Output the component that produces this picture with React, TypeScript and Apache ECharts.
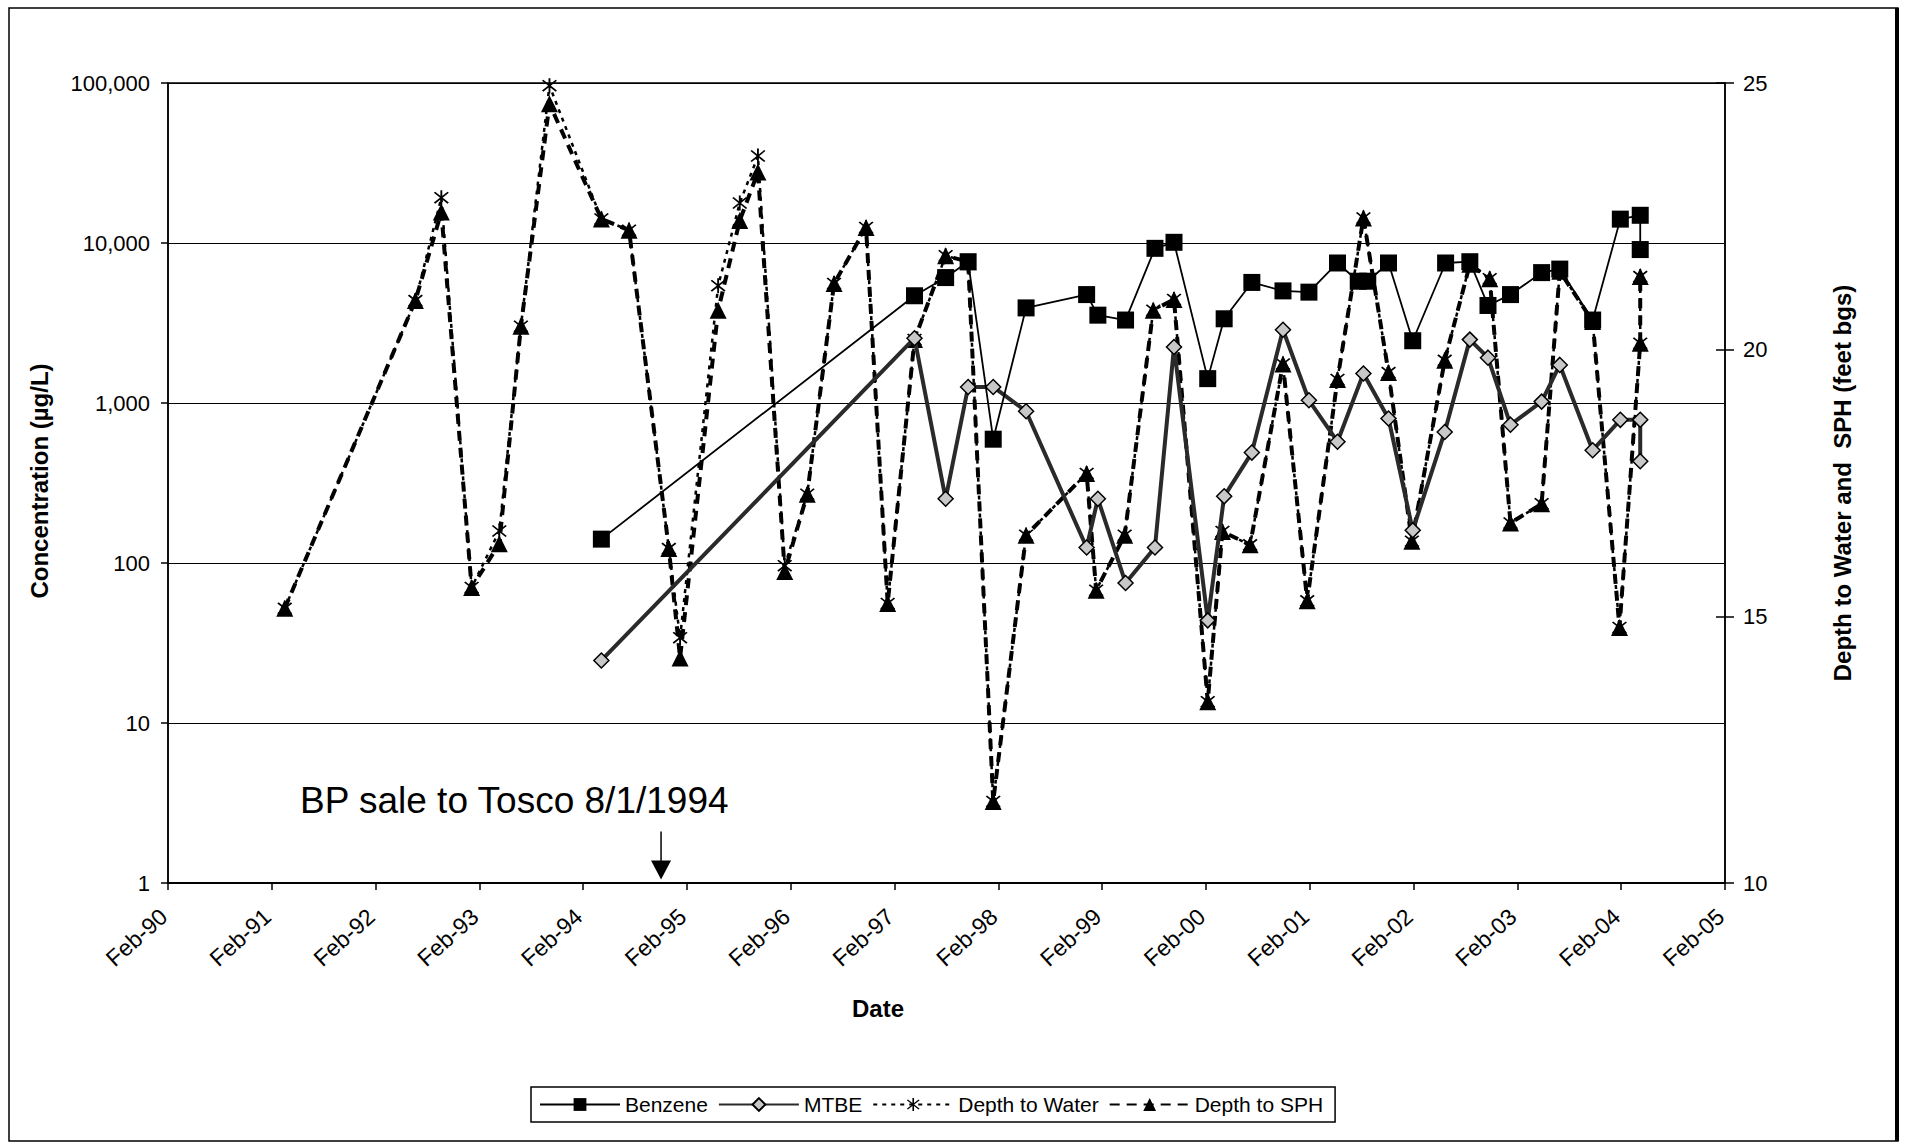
import React, { useEffect, useRef } from 'react';
import * as echarts from 'echarts';

// Months since Feb-1990 (x axis) ---------------------------------------
const xTickYears = [90, 91, 92, 93, 94, 95, 96, 97, 98, 99, 0, 1, 2, 3, 4, 5];

const benzeneMonths = [50.1, 86.3, 89.9, 92.5, 95.4, 99.2, 106.2, 107.5, 110.7, 114.1, 116.3, 120.2, 122.1, 125.3, 128.9, 131.9, 135.2, 137.6, 138.7, 141.1, 143.9, 147.7, 150.5, 152.6, 155.2, 158.8, 160.9, 164.7, 167.9, 170.2, 170.2];
const benzeneValues = [141, 4680, 6080, 7640, 594, 3930, 4760, 3540, 3300, 9260, 10100, 1420, 3360, 5670, 5020, 4930, 7500, 5770, 5770, 7500, 2450, 7500, 7640, 4070, 4760, 6530, 6870, 3300, 14100, 14900, 9100];

const mtbeMonths = [50.1, 86.3, 89.9, 92.5, 95.4, 99.2, 106.2, 107.5, 110.7, 114.1, 116.3, 120.2, 122.1, 125.3, 128.9, 131.9, 135.2, 138.2, 141.1, 143.9, 147.6, 150.5, 152.6, 155.2, 158.8, 160.9, 164.7, 167.9, 170.2, 170.2];
const mtbeValues = [24.6, 2540, 252, 1260, 1260, 888, 125, 252, 75, 125, 2240, 43.8, 261, 490, 2870, 1040, 573, 1530, 800, 160, 659, 2490, 1920, 732, 1020, 1730, 507, 785, 785, 433];

const depthMonths = [13.5, 28.6, 31.6, 35.1, 38.3, 40.8, 44.1, 50.1, 53.3, 57.9, 59.2, 63.6, 66.1, 68.2, 71.3, 73.9, 77.0, 80.7, 83.2, 86.3, 89.9, 92.5, 95.4, 99.2, 106.2, 107.3, 110.6, 113.9, 116.3, 120.2, 121.9, 125.1, 128.9, 131.7, 135.2, 138.2, 141.1, 143.8, 147.6, 150.5, 152.8, 155.2, 158.8, 160.9, 164.7, 167.8, 170.2, 170.2];
const waterDepth = [15.15, 20.92, 22.85, 15.54, 16.6, 20.44, 24.95, 22.45, 22.24, 16.27, 14.6, 21.2, 22.75, 23.63, 15.95, 17.29, 21.24, 22.29, 15.24, 20.19, 21.76, 21.65, 11.53, 16.52, 17.68, 15.49, 16.52, 20.74, 20.94, 13.4, 16.59, 16.34, 19.73, 15.29, 19.44, 22.47, 19.57, 16.41, 19.8, 21.6, 21.33, 16.75, 17.11, 21.47, 20.53, 14.79, 20.12, 21.37];
const sphDepth = [15.15, 20.92, 22.58, 15.54, 16.36, 20.44, 24.61, 22.45, 22.24, 16.27, 14.22, 20.74, 22.42, 23.33, 15.84, 17.29, 21.24, 22.29, 15.24, 20.19, 21.76, 21.65, 11.53, 16.52, 17.68, 15.49, 16.52, 20.74, 20.94, 13.4, 16.59, 16.34, 19.73, 15.29, 19.44, 22.47, 19.57, 16.41, 19.8, 21.6, 21.33, 16.75, 17.11, 21.47, 20.53, 14.79, 20.12, 21.37];

const saleArrowMonth = 57;
const saleLabel = 'BP sale to Tosco 8/1/1994';

const FONT = '"Liberation Sans", Arial, Helvetica, sans-serif';
const ASTERISK =
  'path://M-8,-6.6L-6.6,-8L8,6.6L6.6,8ZM6.6,-8L8,-6.6L-6.6,8L-8,6.6ZM-1,-10L1,-10L1,10L-1,10Z';

const zip = (xs: number[], ys: number[]) => xs.map((x, i) => [x, ys[i]]);

export default function App() {
  const ref = useRef<HTMLDivElement>(null);

  useEffect(() => {
    if (!ref.current) return;
    const chart = echarts.init(ref.current, null, { renderer: 'svg' });

    const option: any = {
      animation: false,
      backgroundColor: '#fff',
      textStyle: { fontFamily: FONT, color: '#000' },
      grid: {
        left: 168,
        right: 180,
        top: 83,
        bottom: 260,
        show: true,
        borderColor: '#000',
        borderWidth: 1.5,
        backgroundColor: 'transparent',
      },
      legend: {
        left: 531,
        top: 1087,
        orient: 'horizontal',
        borderColor: '#000',
        borderWidth: 1.5,
        borderRadius: 0,
        padding: [7, 12, 7, 8],
        itemGap: 10,
        itemWidth: 80,
        itemHeight: 16,
        textStyle: { fontFamily: FONT, fontSize: 21, color: '#000' },
        data: ['Benzene', 'MTBE', 'Depth to Water', 'Depth to SPH'],
      },
      xAxis: {
        type: 'value',
        min: 0,
        max: 180,
        interval: 12,
        axisLine: { show: true, lineStyle: { color: '#000', width: 2 } },
        axisTick: { show: true, inside: false, length: 7, lineStyle: { color: '#000', width: 1.5 } },
        splitLine: { show: false },
        axisLabel: {
          rotate: 42,
          margin: 26,
          padding: [0, 6, 0, 0],
          fontFamily: FONT,
          fontSize: 23,
          color: '#000',
          formatter: (v: number) => {
            const yy = xTickYears[Math.round(v / 12)];
            return 'Feb-' + String(yy).padStart(2, '0');
          },
        },
      },
      yAxis: [
        {
          type: 'log',
          logBase: 10,
          min: 1,
          max: 100000,
          position: 'left',
          axisLine: { show: true, lineStyle: { color: '#000', width: 1.5 } },
          axisTick: { show: true, inside: false, length: 7, lineStyle: { color: '#000', width: 1.5 } },
          minorTick: { show: false },
          splitLine: { show: true, lineStyle: { color: '#000', width: 1 } },
          axisLabel: {
            margin: 18,
            fontFamily: FONT,
            fontSize: 22,
            color: '#000',
            formatter: (v: number) => Math.round(v).toLocaleString('en-US'),
          },
        },
        {
          type: 'value',
          min: 10,
          max: 25,
          interval: 5,
          position: 'right',
          axisLine: { show: true, lineStyle: { color: '#000', width: 1.5 } },
          axisTick: { show: true, inside: false, length: 9, lineStyle: { color: '#000', width: 1.5 } },
          splitLine: { show: false },
          axisLabel: { margin: 18, fontFamily: FONT, fontSize: 22, color: '#000' },
        },
        {
          type: 'value',
          min: 10,
          max: 25,
          interval: 5,
          position: 'right',
          axisLine: { show: false },
          axisTick: { show: true, inside: true, length: 9, lineStyle: { color: '#000', width: 1.5 } },
          splitLine: { show: false },
          axisLabel: { show: false },
        },
      ],
      series: [
        {
          name: 'Depth to SPH',
          type: 'line',
          yAxisIndex: 1,
          data: zip(depthMonths, sphDepth),
          symbol: 'triangle',
          symbolSize: 17,
          z: 2,
          itemStyle: { color: '#000' },
          lineStyle: { color: '#000', width: 4, type: [10, 7] },
        },
        {
          name: 'Depth to Water',
          type: 'line',
          yAxisIndex: 1,
          data: zip(depthMonths, waterDepth),
          symbol: ASTERISK,
          symbolSize: 15,
          z: 3,
          itemStyle: { color: '#000' },
          lineStyle: { color: '#000', width: 2.5, type: [4, 5] },
        },
        {
          name: 'MTBE',
          type: 'line',
          yAxisIndex: 0,
          data: zip(mtbeMonths, mtbeValues),
          symbol: 'diamond',
          symbolSize: 15,
          z: 4,
          itemStyle: { color: '#c8c8c8', borderColor: '#000', borderWidth: 1.5 },
          lineStyle: { color: '#2a2a2a', width: 4 },
        },
        {
          name: 'Benzene',
          type: 'line',
          yAxisIndex: 0,
          data: zip(benzeneMonths, benzeneValues),
          symbol: 'rect',
          symbolSize: 17,
          z: 5,
          itemStyle: { color: '#000' },
          lineStyle: { color: '#000', width: 1.8 },
        },
      ],
    };

    chart.setOption(option);

    const top = chart.convertToPixel({ xAxisIndex: 0, yAxisIndex: 0 }, [saleArrowMonth, 2.1]) as number[];
    const tip = chart.convertToPixel({ xAxisIndex: 0, yAxisIndex: 0 }, [saleArrowMonth, 1.05]) as number[];
    const ax = top[0];

    chart.setOption({
      graphic: [
        {
          type: 'rect',
          shape: { x: 9, y: 8, width: 1889, height: 1133 },
          style: { fill: 'none', stroke: '#000', lineWidth: 1.5 },
          silent: true,
        },
        {
          type: 'line',
          shape: { x1: 1897, y1: 8, x2: 1897, y2: 1141 },
          style: { stroke: '#000', lineWidth: 4 },
          silent: true,
        },
        {
          type: 'text',
          x: 300,
          y: 800,
          style: {
            text: saleLabel,
            fontFamily: FONT,
            fontSize: 37,
            fill: '#000',
            textAlign: 'left',
            textVerticalAlign: 'middle',
          },
        },
        {
          type: 'line',
          shape: { x1: ax, y1: top[1], x2: ax, y2: tip[1] - 16 },
          style: { stroke: '#000', lineWidth: 1.5 },
        },
        {
          type: 'polygon',
          shape: { points: [[ax - 10, tip[1] - 19], [ax + 10, tip[1] - 19], [ax, tip[1]]] },
          style: { fill: '#000' },
        },
        {
          type: 'text',
          x: 39,
          y: 481,
          rotation: Math.PI / 2,
          style: {
            text: 'Concentration (µg/L)',
            fontFamily: FONT,
            fontSize: 24,
            fontWeight: 'bold',
            fill: '#000',
            textAlign: 'center',
            textVerticalAlign: 'middle',
          },
        },
        {
          type: 'text',
          x: 1842,
          y: 483,
          rotation: Math.PI / 2,
          style: {
            text: 'Depth to Water and  SPH (feet bgs)',
            fontFamily: FONT,
            fontSize: 24,
            fontWeight: 'bold',
            fill: '#000',
            textAlign: 'center',
            textVerticalAlign: 'middle',
          },
        },
        {
          type: 'text',
          x: 878,
          y: 1008,
          style: {
            text: 'Date',
            fontFamily: FONT,
            fontSize: 24,
            fontWeight: 'bold',
            fill: '#000',
            textAlign: 'center',
            textVerticalAlign: 'middle',
          },
        },
      ],
    });

    return () => chart.dispose();
  }, []);

  return (
    <div
      ref={ref}
      style={{ position: 'fixed', left: 0, top: 0, width: 1905, height: 1143, background: '#fff' }}
    />
  );
}
